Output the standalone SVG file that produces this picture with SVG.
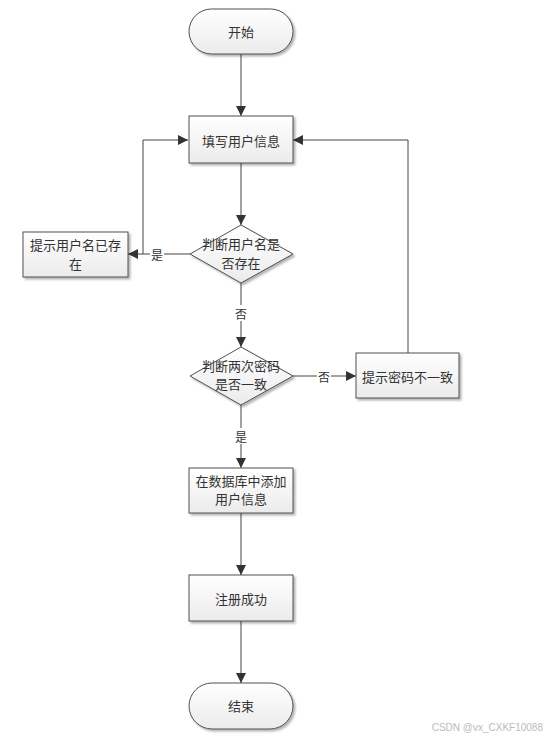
<svg xmlns="http://www.w3.org/2000/svg" width="548" height="738" viewBox="0 0 548 738">
<style>
.shape{stroke:#505050;stroke-width:1;fill:url(#g);filter:url(#sh)}
.t{font-family:"Noto Sans CJK SC","Liberation Sans",sans-serif;font-size:13px;fill:#333;text-anchor:middle;dominant-baseline:central}
.lbl{font-family:"Noto Sans CJK SC","Liberation Sans",sans-serif;font-size:12px;fill:#333;text-anchor:middle;dominant-baseline:central}
.c{stroke:#444;stroke-width:1;fill:none}
.bg{fill:#fff}
</style>
<defs>
<linearGradient id="g" x1="0" y1="0" x2="0" y2="1">
<stop offset="0" stop-color="#ffffff"/>
<stop offset="1" stop-color="#ebebeb"/>
</linearGradient>
<filter id="sh" x="-10%" y="-10%" width="130%" height="140%">
<feDropShadow dx="2" dy="2" stdDeviation="1.2" flood-color="#000" flood-opacity="0.3"/>
</filter>
<marker id="a" viewBox="0 0 10 10" refX="10" refY="5" markerWidth="10" markerHeight="10" markerUnits="userSpaceOnUse" orient="auto">
<path d="M0,0 L10,5 L0,10 Z" fill="#333"/>
</marker>
</defs>
<rect width="548" height="738" fill="#fff"/>
<g id="connectors">
<path class="c" d="M241,54 V116" marker-end="url(#a)"/>
<path class="c" d="M241,163 V225" marker-end="url(#a)"/>
<path class="c" d="M190,254 H128" marker-end="url(#a)"/>
<path class="c" d="M143,254 V140 H188" marker-end="url(#a)"/>
<path class="c" d="M241,283 V347" marker-end="url(#a)"/>
<path class="c" d="M293,376 H356" marker-end="url(#a)"/>
<path class="c" d="M408,353 V140 H293" marker-end="url(#a)"/>
<path class="c" d="M241,405 V468" marker-end="url(#a)"/>
<path class="c" d="M241,513 V575" marker-end="url(#a)"/>
<path class="c" d="M241,621 V683" marker-end="url(#a)"/>
<rect class="bg" x="150" y="246" width="14" height="16"/>
<text class="lbl" x="157" y="254">是</text>
<rect class="bg" x="234" y="305" width="14" height="16"/>
<text class="lbl" x="241" y="313">否</text>
<rect class="bg" x="317" y="368" width="14" height="16"/>
<text class="lbl" x="324" y="376">否</text>
<rect class="bg" x="234" y="428" width="14" height="16"/>
<text class="lbl" x="241" y="436">是</text>
</g>
<g id="start">
<rect class="shape" x="189" y="9" width="104" height="45" rx="22.5" ry="22.5"/>
<text class="t" x="241" y="31">开始</text>
</g>
<g id="fill-info">
<rect class="shape" x="189" y="116" width="104" height="47"/>
<text class="t" x="241" y="140">填写用户信息</text>
</g>
<g id="check-user">
<polygon class="shape" points="241,225 293,254 241,283 190,254"/>
<text class="t" x="241" y="243">判断用户名是</text>
<text class="t" x="241" y="262">否存在</text>
</g>
<g id="user-exists">
<rect class="shape" x="23" y="232" width="105" height="45"/>
<text class="t" x="75.5" y="244">提示用户名已存</text>
<text class="t" x="75.5" y="263">在</text>
</g>
<g id="check-pwd">
<polygon class="shape" points="241,347 293,376 241,405 190,376"/>
<text class="t" x="241" y="365">判断两次密码</text>
<text class="t" x="241" y="383">是否一致</text>
</g>
<g id="pwd-mismatch">
<rect class="shape" x="356" y="353" width="103" height="45"/>
<text class="t" x="407.5" y="376">提示密码不一致</text>
</g>
<g id="add-db">
<rect class="shape" x="189" y="468" width="104" height="45"/>
<text class="t" x="241" y="480">在数据库中添加</text>
<text class="t" x="241" y="498">用户信息</text>
</g>
<g id="success">
<rect class="shape" x="189" y="575" width="104" height="46"/>
<text class="t" x="241" y="598">注册成功</text>
</g>
<g id="end">
<rect class="shape" x="189" y="683" width="104" height="46" rx="23" ry="23"/>
<text class="t" x="241" y="705">结束</text>
</g>
<text x="543" y="727" font-family="Liberation Sans, sans-serif" font-size="10" fill="#bbb" text-anchor="end" dominant-baseline="central">CSDN @vx_CXKF10088</text>
</svg>
